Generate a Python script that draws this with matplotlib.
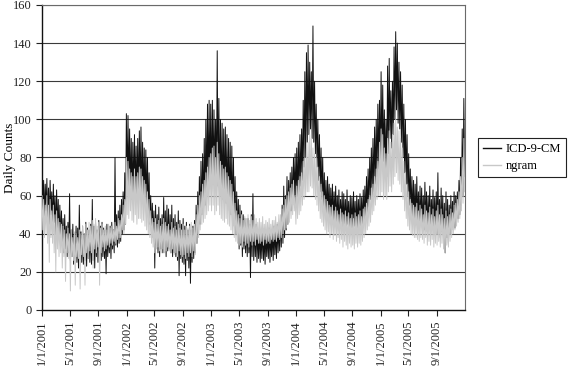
import numpy as np
import pandas as pd
import matplotlib
matplotlib.use("Agg")
import matplotlib.pyplot as plt
from matplotlib.lines import Line2D

plt.rcParams['font.family'] = ['Liberation Serif', 'DejaVu Serif']

# weekly high / low of the daily counts, one row per year (2001..2005)
icd_hi = [
    72, 68, 66, 69, 64, 68, 62, 66, 60, 63, 58, 55, 52, 48, 50, 44, 46, 61, 42, 45, 40, 44, 43, 55, 41, 44,
    40, 46, 43, 42, 45, 58, 44, 46, 42, 47, 44, 46, 43, 42, 45, 40, 44, 46, 42, 80, 50, 52, 55, 58, 62, 72,
    103, 102, 95, 90, 88, 92, 86, 90, 94, 96, 88, 85, 84, 80, 72, 60, 56, 52, 55, 50, 54, 48, 50, 59, 52, 55,
    53, 50, 55, 48, 50, 46, 52, 47, 45, 48, 44, 46, 42, 45, 42, 44, 47, 55, 62, 70, 78, 82, 90, 100, 108, 110,
    108, 110, 105, 100, 136, 111, 100, 98, 95, 96, 92, 90, 88, 86, 80, 70, 62, 58, 55, 52, 50, 48, 46, 48, 45, 50,
    61, 44, 45, 41, 42, 40, 43, 39, 41, 40, 43, 39, 42, 44, 41, 45, 43, 48, 55, 65, 60, 70, 68, 72, 75, 80,
    82, 85, 88, 92, 95, 110, 125, 135, 139, 130, 125, 149, 120, 108, 100, 92, 85, 80, 72, 68, 70, 66, 64, 66, 62, 65,
    60, 63, 58, 62, 61, 58, 63, 57, 60, 59, 62, 57, 60, 58, 61, 59, 63, 65, 70, 74, 80, 85, 90, 96, 100, 108,
    110, 125, 118, 105, 100, 128, 132, 115, 120, 138, 146, 140, 130, 125, 118, 108, 100, 92, 82, 74, 70, 68, 66, 70, 62, 65,
    64, 60, 67, 62, 60, 65, 58, 63, 59, 62, 72, 58, 64, 60, 56, 62, 58, 55, 60, 57, 62, 60, 62, 68, 80, 95, 111,
]
icd_lo = [
    50, 48, 52, 46, 45, 50, 44, 46, 40, 42, 38, 36, 34, 30, 32, 28, 30, 26, 28, 24, 27, 25, 22, 28, 25, 24,
    26, 23, 27, 25, 24, 26, 22, 28, 25, 30, 26, 28, 27, 19, 28, 30, 27, 32, 30, 34, 33, 35, 36, 40, 42, 45,
    62, 65, 60, 58, 60, 62, 58, 60, 62, 58, 60, 56, 55, 50, 45, 40, 38, 22, 34, 30, 28, 32, 30, 33, 28, 31,
    32, 30, 28, 30, 28, 26, 18, 27, 25, 24, 18, 26, 22, 14, 25, 27, 30, 35, 40, 45, 50, 52, 55, 60, 62, 65,
    62, 66, 70, 64, 65, 62, 60, 58, 58, 56, 55, 52, 50, 48, 44, 40, 36, 32, 34, 28, 32, 30, 28, 30, 17, 28,
    26, 28, 25, 27, 25, 27, 26, 24, 28, 27, 25, 28, 26, 29, 27, 30, 31, 33, 35, 38, 42, 45, 50, 52, 55, 58,
    55, 58, 62, 65, 68, 75, 80, 88, 92, 95, 90, 88, 82, 75, 68, 62, 58, 52, 50, 48, 50, 46, 47, 45, 48, 44,
    45, 43, 46, 42, 44, 42, 45, 41, 43, 42, 44, 41, 43, 44, 42, 45, 46, 48, 50, 54, 58, 60, 62, 66, 70, 74,
    75, 80, 78, 72, 70, 82, 90, 85, 92, 100, 105, 98, 95, 88, 80, 72, 66, 60, 55, 50, 48, 46, 45, 47, 43, 46,
    44, 42, 45, 41, 43, 40, 44, 41, 42, 40, 42, 38, 41, 36, 30, 38, 35, 40, 42, 44, 43, 46, 48, 50, 55, 60, 70,
]
ngram_hi = [
    60, 58, 55, 60, 55, 58, 52, 55, 50, 52, 48, 46, 45, 44, 42, 40, 43, 40, 42, 38, 41, 40, 38, 42, 40, 44,
    40, 45, 42, 46, 44, 47, 45, 48, 44, 46, 43, 45, 42, 44, 42, 45, 43, 44, 42, 46, 44, 48, 47, 50, 55, 58,
    80, 78, 74, 72, 70, 74, 70, 72, 75, 74, 70, 68, 66, 62, 58, 52, 48, 46, 48, 45, 47, 44, 45, 48, 46, 44,
    45, 42, 46, 43, 44, 42, 45, 43, 42, 45, 42, 44, 43, 44, 46, 43, 45, 50, 55, 60, 62, 66, 68, 72, 75, 80,
    82, 85, 86, 80, 88, 82, 78, 76, 74, 75, 72, 70, 68, 66, 62, 56, 52, 50, 48, 50, 47, 49, 48, 50, 47, 49,
    47, 50, 48, 46, 48, 46, 49, 45, 47, 46, 48, 45, 47, 47, 49, 46, 50, 50, 53, 55, 58, 60, 62, 64, 66, 68,
    60, 65, 68, 70, 72, 78, 80, 85, 88, 92, 90, 85, 82, 80, 75, 70, 66, 62, 60, 58, 57, 55, 54, 55, 52, 54,
    52, 50, 53, 51, 50, 52, 49, 51, 48, 50, 48, 51, 49, 50, 52, 49, 53, 54, 56, 58, 60, 64, 66, 70, 74, 78,
    88, 95, 92, 85, 82, 90, 94, 88, 92, 98, 100, 96, 94, 90, 85, 78, 72, 66, 62, 58, 56, 55, 54, 56, 52, 55,
    53, 50, 55, 52, 51, 54, 50, 53, 49, 52, 55, 50, 53, 50, 48, 52, 49, 50, 53, 51, 55, 56, 58, 62, 70, 80, 90,
]
ngram_lo = [
    42, 38, 40, 35, 25, 38, 35, 30, 20, 32, 28, 30, 22, 28, 15, 30, 27, 10, 28, 26, 13, 28, 27, 11, 29, 28,
    13, 30, 27, 31, 30, 22, 32, 30, 33, 13, 30, 33, 31, 32, 34, 33, 35, 34, 36, 35, 37, 38, 38, 42, 40, 45,
    50, 48, 52, 47, 46, 50, 45, 48, 48, 46, 47, 44, 42, 40, 38, 35, 33, 30, 32, 33, 31, 30, 32, 30, 31, 33,
    31, 30, 32, 29, 30, 28, 31, 29, 28, 29, 27, 30, 28, 30, 28, 31, 29, 35, 38, 42, 45, 46, 48, 50, 52, 55,
    52, 55, 50, 52, 55, 50, 48, 47, 46, 48, 45, 44, 42, 40, 38, 36, 35, 34, 35, 33, 36, 34, 35, 33, 36, 34,
    36, 34, 37, 35, 35, 36, 34, 37, 35, 36, 35, 37, 36, 37, 36, 38, 37, 38, 40, 42, 43, 45, 46, 48, 50, 52,
    45, 48, 50, 52, 55, 58, 60, 62, 62, 65, 64, 60, 58, 55, 52, 48, 46, 44, 42, 40, 41, 38, 40, 37, 39, 36,
    38, 35, 37, 33, 36, 34, 32, 35, 33, 34, 32, 35, 33, 35, 34, 36, 38, 40, 42, 44, 46, 50, 52, 55, 58, 60,
    60, 62, 58, 60, 58, 62, 65, 62, 66, 70, 72, 68, 66, 62, 58, 52, 48, 44, 42, 40, 39, 38, 38, 37, 36, 38,
    37, 35, 38, 34, 36, 34, 37, 33, 35, 34, 36, 33, 35, 32, 30, 34, 33, 36, 38, 40, 42, 44, 46, 48, 52, 56, 62,
]

weeks = pd.date_range('2001-01-01', periods=len(icd_hi), freq='7D')
tick_dates = [pd.Timestamp(y, m, 1) for y in range(2001, 2006) for m in (1, 5, 9)]
tick_labels = ['%d/1/%d' % (d.month, d.year) for d in tick_dates]


def zigzag(hi, lo):
    xs, ys = [], []
    for d, h, l in zip(weeks, hi, lo):
        xs += [d, d + pd.Timedelta(hours=84)]
        ys += [h, l]
    return xs, ys


fig = plt.figure(figsize=(5.68, 3.66), dpi=100)
ax = fig.add_axes([42 / 568, 56 / 366, 423 / 568, 305 / 366])

for y in range(20, 161, 20):
    ax.axhline(y, color='#3a3a3a', lw=0.8, zorder=1)

x, y = zigzag(icd_hi, icd_lo)
ax.plot(x, y, color='#111111', lw=0.7, zorder=2)
x, y = zigzag(ngram_hi, ngram_lo)
ax.plot(x, y, color='#c8c8c8', lw=0.7, zorder=3)

ax.set_xlim(pd.Timestamp(2001, 1, 1), pd.Timestamp(2005, 12, 31))
ax.set_ylim(0, 160)
ax.set_yticks(range(0, 161, 20))
ax.set_xticks(tick_dates)
ax.set_xticklabels(tick_labels, rotation=90)
ax.tick_params(direction='out', length=4, width=0.8, labelsize=9, colors='#222222')
ax.set_ylabel('Daily Counts', fontsize=9.5)
ax.yaxis.set_label_coords(-0.061, 0.5)

for s in ['left', 'bottom']:
    ax.spines[s].set_color('#111111')
    ax.spines[s].set_linewidth(1.0)
for s in ['top', 'right']:
    ax.spines[s].set_color('#6a6a6a')
    ax.spines[s].set_linewidth(0.8)

handles = [Line2D([], [], color='#111111', lw=1), Line2D([], [], color='#c8c8c8', lw=1)]
leg = fig.legend(handles, ['ICD-9-CM', 'ngram'], loc='center left',
                 bbox_to_anchor=(472 / 568, 0.57), fontsize=9, frameon=True,
                 fancybox=False, edgecolor='#222222', framealpha=1,
                 handlelength=1.4, handletextpad=0.4, borderpad=0.4, labelspacing=0.4)
leg.get_frame().set_linewidth(0.8)

fig.savefig('out.png', dpi=100)
